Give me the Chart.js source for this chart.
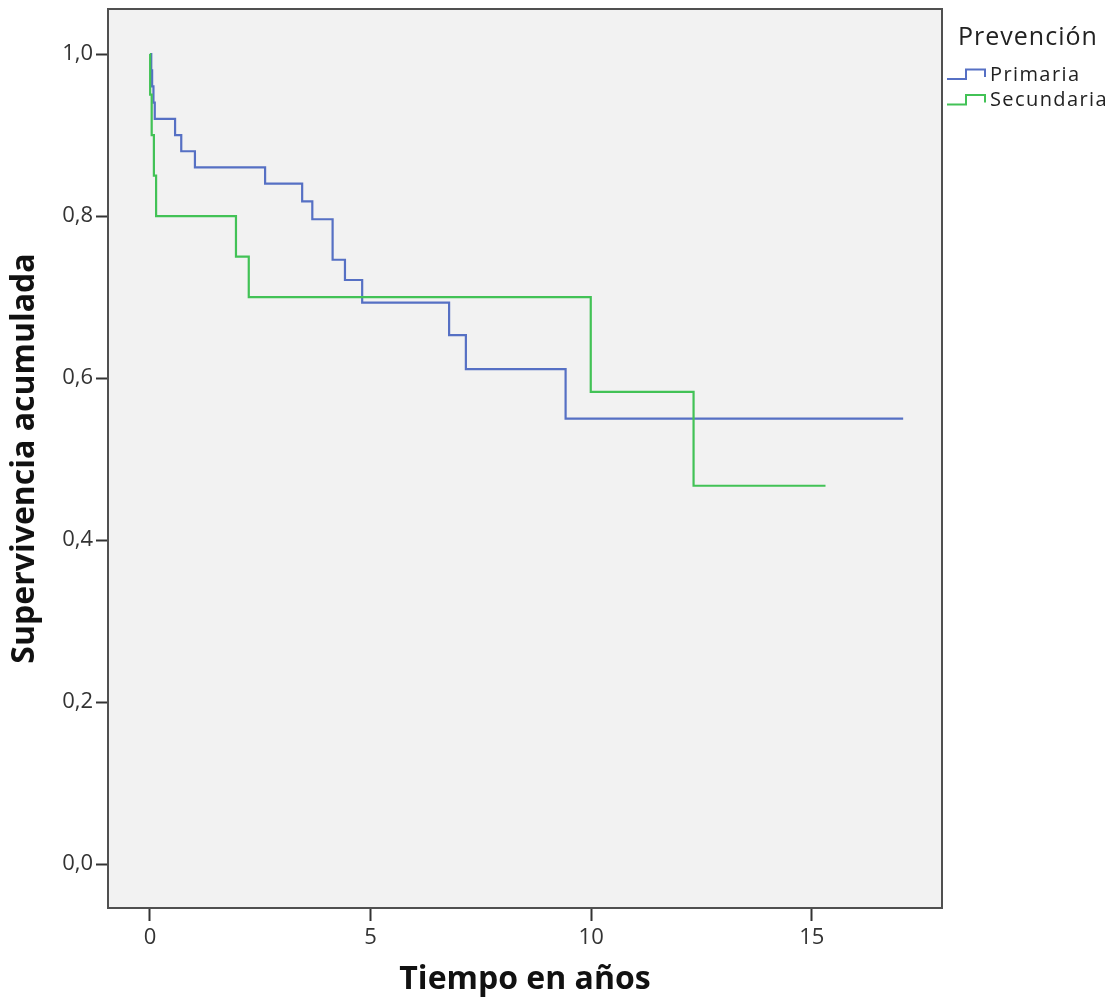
<!DOCTYPE html>
<html>
<head>
<meta charset="utf-8">
<script src="https://cdn.jsdelivr.net/npm/chart.js@4/dist/chart.umd.min.js"></script>
<style>
html,body{margin:0;padding:0;background:#ffffff;}
#wrap{width:1112px;height:1000px;position:relative;}
canvas{display:block;}
</style>
</head>
<body>
<div id="wrap"><canvas id="c" width="1112" height="1000"></canvas></div>
<script>
// ---- data ----
const legendTitle = 'Prevención';
const seriesNames = ['Primaria', 'Secundaria'];

const primariaTimes = [0, 0.03, 0.05, 0.08, 0.11, 0.57, 0.71, 1.02, 2.61, 3.45, 3.68, 4.14, 4.14, 4.42, 4.81, 6.78, 7.16, 9.42, 17.07];
const primariaSurv  = [1.0, 0.98, 0.96, 0.94, 0.92, 0.90, 0.88, 0.86, 0.84, 0.818, 0.796, 0.771, 0.746, 0.721, 0.693, 0.653, 0.611, 0.550, 0.550];

const secundariaTimes = [0, 0.005, 0.04, 0.09, 0.14, 1.95, 2.24, 9.99, 12.32, 15.31];
const secundariaSurv  = [1.0, 0.95, 0.90, 0.85, 0.80, 0.75, 0.70, 0.583, 0.467, 0.467];

const xTickValues = [0, 5, 10, 15];
const xTickLabels = ['0', '5', '10', '15'];
const yTickValues = [0, 0.2, 0.4, 0.6, 0.8, 1.0];
const yTickLabels = ['0,0', '0,2', '0,4', '0,6', '0,8', '1,0'];

const xTitle = 'Tiempo en años';
const yTitle = 'Supervivencia acumulada';

// ---- styles ----
const seriesColors = ['#5670c4', '#42c256'];
const FONT = '"Open Sans", "DejaVu Sans", sans-serif';

function toPoints(xs, ys) { return xs.map((x, i) => ({ x: x, y: ys[i] })); }

const plotBg = {
  id: 'plotBg',
  beforeDraw(chart) {
    const { ctx, chartArea: a } = chart;
    ctx.save();
    ctx.fillStyle = '#f2f2f2';
    ctx.fillRect(a.left, a.top, a.right - a.left, a.bottom - a.top);
    ctx.restore();
  },
  afterDraw(chart) {
    const { ctx, chartArea: a } = chart;
    ctx.save();
    ctx.strokeStyle = '#505050';
    ctx.lineWidth = 2;
    ctx.strokeRect(a.left, a.top, a.right - a.left, a.bottom - a.top);
    ctx.restore();
  }
};

const stepLegend = {
  id: 'stepLegend',
  afterDraw(chart) {
    const { ctx, chartArea: a } = chart;
    ctx.save();
    ctx.letterSpacing = '1px';
    ctx.fillStyle = '#222';
    ctx.textBaseline = 'middle';
    ctx.textAlign = 'left';
    ctx.font = '25px ' + FONT;
    ctx.fillText(legendTitle, a.right + 16, 38);
    ctx.font = '20px ' + FONT;
    ctx.letterSpacing = '1.4px';
    chart.data.datasets.forEach((ds, i) => {
      const yc = 75 + i * 25.5;
      const x0 = a.right + 5;
      ctx.strokeStyle = ds.borderColor;
      ctx.lineWidth = 2;
      ctx.beginPath();
      ctx.moveTo(x0, yc + 4);
      ctx.lineTo(x0 + 19, yc + 4);
      ctx.lineTo(x0 + 19, yc - 5.5);
      ctx.lineTo(x0 + 38, yc - 5.5);
      ctx.lineTo(x0 + 38, yc + 2);
      ctx.stroke();
      ctx.fillStyle = '#222';
      ctx.fillText(ds.label, x0 + 43, yc);
    });
    ctx.restore();
  }
};

new Chart(document.getElementById('c'), {
  type: 'scatter',
  data: {
    datasets: [
      {
        label: seriesNames[0],
        data: toPoints(primariaTimes, primariaSurv),
        showLine: true,
        stepped: 'before',
        borderColor: seriesColors[0],
        backgroundColor: seriesColors[0],
        borderWidth: 2.2,
        pointRadius: 0,
        fill: false,
        order: 2
      },
      {
        label: seriesNames[1],
        data: toPoints(secundariaTimes, secundariaSurv),
        showLine: true,
        stepped: 'before',
        borderColor: seriesColors[1],
        backgroundColor: seriesColors[1],
        borderWidth: 2.2,
        pointRadius: 0,
        fill: false,
        order: 1
      }
    ]
  },
  options: {
    responsive: false,
    animation: false,
    devicePixelRatio: 1,
    layout: { padding: { top: 9, right: 170, left: 0, bottom: 0 } },
    plugins: {
      legend: { display: false },
      tooltip: { enabled: false }
    },
    scales: {
      x: {
        type: 'linear',
        min: -0.95,
        max: 17.95,
        afterBuildTicks: s => { s.ticks = xTickValues.map(v => ({ value: v })); },
        afterFit: s => { s.height = 92; s.paddingLeft = 0; s.paddingRight = 0; },
        ticks: {
          font: { family: FONT, size: 22 },
          color: '#333',
          padding: 4,
          maxRotation: 0,
          autoSkip: false,
          callback: v => xTickLabels[xTickValues.indexOf(v)]
        },
        grid: { display: true, drawOnChartArea: false, drawTicks: true, tickLength: 13, tickColor: '#333', tickWidth: 2 },
        border: { display: true, color: '#505050', width: 2 },
        title: { display: true, text: xTitle, color: '#111', font: { family: FONT, size: 32, weight: 'bold' }, padding: { top: 0, bottom: 1 } }
      },
      y: {
        type: 'linear',
        min: -0.0543,
        max: 1.0556,
        afterBuildTicks: s => { s.ticks = yTickValues.map(v => ({ value: v })); },
        afterFit: s => { s.width = 108; s.paddingTop = 0; s.paddingBottom = 0; },
        ticks: {
          font: { family: FONT, size: 22 },
          color: '#333',
          padding: 3,
          autoSkip: false,
          callback: v => yTickLabels[yTickValues.indexOf(v)]
        },
        grid: { display: true, drawOnChartArea: false, drawTicks: true, tickLength: 12, tickColor: '#333', tickWidth: 2 },
        border: { display: true, color: '#505050', width: 2 },
        title: { display: true, text: yTitle, color: '#111', font: { family: FONT, size: 32, weight: 'bold' }, padding: { top: 6, bottom: 0 } }
      }
    }
  },
  plugins: [plotBg, stepLegend]
});
</script>
</body>
</html>
